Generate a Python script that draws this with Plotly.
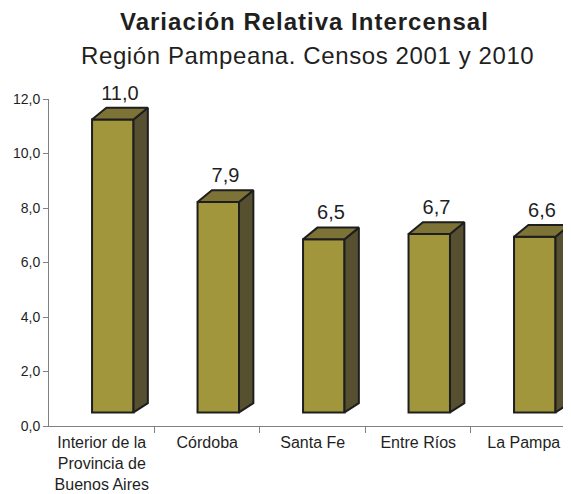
"""Variación relativa intercensal, Región Pampeana (pseudo-3D bar chart)."""

import plotly.graph_objects as go

# Data
categorias = [
    "Interior de la<br>Provincia de<br>Buenos Aires",
    "Córdoba",
    "Santa Fe",
    "Entre Ríos",
    "La Pampa",
]
variacion = [11.0, 7.9, 6.5, 6.7, 6.6]
y_ticks = [0, 2, 4, 6, 8, 10, 12]

# Style
FONT = "Liberation Sans, Arial, sans-serif"
TEXT = "#1f1f1f"
AXIS = "#808080"
FRONT = "#A1963C"
SIDE = "#575030"
TOP = "#7D7337"
EDGE = "#1e1e1e"

# 3D look (Excel-like): bars sit on a raised floor, with depth offset
BASE = 0.5          # front face bottom, in y units
SCALE = 0.977       # front face height relative to value
BAR_OFFSET = -0.092
BAR_WIDTH = 0.393
DX = 0.136          # depth, x units
DY_TOP = 0.43       # depth, y units at top
DY_BOT = 0.34       # depth, y units at bottom
LABEL_GAP = 0.12    # extra lift for value labels, y units

xs = list(range(len(categorias)))
tops = [BASE + v * SCALE for v in variacion]

fig = go.Figure()

# front faces
fig.add_trace(
    go.Bar(
        x=xs,
        y=[t - BASE for t in tops],
        base=BASE,
        width=BAR_WIDTH,
        offset=BAR_OFFSET,
        marker={"color": FRONT, "line": {"color": EDGE, "width": 2}},
        hoverinfo="skip",
        showlegend=False,
    )
)

# side + top faces
for x, top in zip(xs, tops):
    xl = x + BAR_OFFSET
    xr = xl + BAR_WIDTH
    fig.add_trace(
        go.Scatter(
            x=[xr, xr + DX, xr + DX, xr, xr],
            y=[BASE, BASE + DY_BOT, top + DY_TOP, top, BASE],
            mode="lines",
            fill="toself",
            fillcolor=SIDE,
            line={"color": EDGE, "width": 2},
            hoverinfo="skip",
            showlegend=False,
        )
    )
    fig.add_trace(
        go.Scatter(
            x=[xl, xl + DX, xr + DX, xr, xl],
            y=[top, top + DY_TOP, top + DY_TOP, top, top],
            mode="lines",
            fill="toself",
            fillcolor=TOP,
            line={"color": EDGE, "width": 2},
            hoverinfo="skip",
            showlegend=False,
        )
    )

# value labels
fig.add_trace(
    go.Scatter(
        x=[x + BAR_OFFSET + BAR_WIDTH / 2 + DX / 2 for x in xs],
        y=[t + DY_TOP + LABEL_GAP for t in tops],
        mode="text",
        text=[f"{v:.1f}".replace(".", ",") for v in variacion],
        textposition="top center",
        textfont={"family": FONT, "size": 20, "color": TEXT},
        cliponaxis=False,
        hoverinfo="skip",
        showlegend=False,
    )
)

fig.add_annotation(
    text='<span style="letter-spacing:1px"><b>Variación Relativa Intercensal</b></span>',
    xref="paper", yref="paper", x=0.49, y=1.237,
    xanchor="center", yanchor="middle", showarrow=False,
    font={"family": FONT, "size": 24, "color": TEXT},
)
fig.add_annotation(
    text='<span style="letter-spacing:0.6px">Región Pampeana. Censos 2001 y 2010</span>',
    xref="paper", yref="paper", x=0.495, y=1.132,
    xanchor="center", yanchor="middle", showarrow=False,
    font={"family": FONT, "size": 24, "color": TEXT},
)

# page body has an 8px margin, so the figure is sized 8px smaller
fig.update_layout(
    width=563,
    height=486,
    margin={"l": 41, "r": 0, "t": 91, "b": 68},
    paper_bgcolor="white",
    plot_bgcolor="white",
    separators=",.",
    font={"family": FONT, "color": TEXT},
    xaxis={
        "range": [-0.5, 4.448],
        "tickmode": "array",
        "tickvals": xs,
        "ticktext": categorias,
        "ticks": "",
        "ticklabelstandoff": 2,
        "showgrid": False,
        "zeroline": False,
        "showline": True,
        "linecolor": AXIS,
        "linewidth": 1,
        "tickfont": {"family": FONT, "size": 16, "color": TEXT},
        "minor": {
            "tickvals": [0.5, 1.5, 2.5, 3.5],
            "ticks": "outside",
            "ticklen": 6,
            "tickcolor": AXIS,
            "showgrid": False,
        },
        "fixedrange": True,
    },
    yaxis={
        "range": [0, 12],
        "tickmode": "array",
        "tickvals": y_ticks,
        "tickformat": ".1f",
        "ticks": "outside",
        "ticklen": 5,
        "tickcolor": AXIS,
        "showgrid": False,
        "zeroline": False,
        "showline": True,
        "linecolor": AXIS,
        "linewidth": 1,
        "tickfont": {"family": FONT, "size": 14, "color": TEXT},
        "fixedrange": True,
    },
)

fig.write_html("out.html")
